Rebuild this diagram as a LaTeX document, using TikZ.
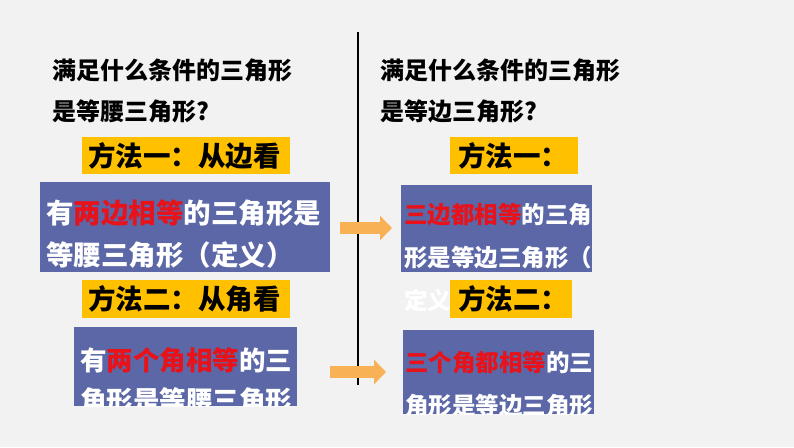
\documentclass[tikz,border=0pt]{standalone}
\usepackage{fontspec}
\newfontfamily\cjk{Noto Sans CJK SC}
\usetikzlibrary{positioning,arrows.meta}
\definecolor{bluebox}{HTML}{5B67A6}
\definecolor{goldbox}{HTML}{FFC000}
\definecolor{orangearr}{HTML}{F8B155}
\definecolor{redtxt}{HTML}{E8121A}
\begin{document}
\begin{tikzpicture}[x=1pt,y=-1pt]
    \tikzstyle{title} = [anchor=west, inner sep=0pt, font=\cjk\bfseries\fontsize{24}{26}\selectfont]
    \tikzstyle{tag} = [fill=goldbox, inner sep=0pt]
    \tikzstyle{card} = [fill=bluebox, inner sep=0pt]
    \tikzstyle{line} = [anchor=west, inner sep=0pt, text=white, font=\cjk\bfseries\fontsize{23.5}{26}\selectfont]
    \tikzstyle{wide} = [font=\cjk\bfseries\fontsize{27.5}{30}\selectfont]
    \tikzstyle{arr} = [-{Triangle[length=12pt,width=24pt]}, line width=12pt, draw=orangearr]
    \newcommand{\hl}[1]{\textcolor{redtxt}{#1}}

    \fill[black!5] (0,0) rectangle (794,447);
    \draw[line width=1.5pt] (358,32) -- (358,385);

    \node[title] (t1) at (52,70) {满足什么条件的三角形};
    \node[title] (t2) at (52,111) {是等腰三角形?};
    \node[title] (t3) at (380,70) {满足什么条件的三角形};
    \node[title] (t4) at (380,111) {是等边三角形?};

    % tags
    \fill[tag] (82,137) rectangle (290,174);
    \node[title, wide] (m1) at (88,156) {方法一：从边看};
    \fill[tag] (450,137) rectangle (578,174);
    \node[title, wide] (m2) at (458,156) {方法一：};
    \fill[tag] (82,280) rectangle (290,318);
    \node[title, wide] (m3) at (88,299) {方法二：从角看};
    \fill[tag] (450,280) rectangle (572,318);
    \node[title, wide] (m4) at (458,299) {方法二：};

    % cards
    \fill[card] (40,182) rectangle (330,272);
    \node[line, wide] (a1) at (46,213) {有\hl{两边相等}的三角形是};
    \node[line, wide] (a2) at (46,255) {等腰三角形（定义）};

    \fill[card] (401,185) rectangle (592,272);
    \node[line] (b1) at (404,215) {\hl{三边都相等}的三角};
    \node[line] (b2) at (404,258) {形是等边三角形（};
    \node[line] (b3) at (404,300) {定义};

    \begin{scope}
      \clip (74,327) rectangle (297,406);
      \fill[card] (74,327) rectangle (297,406);
      \node[line, font=\cjk\bfseries\fontsize{26.5}{30}\selectfont] (c1) at (80,360) {有\hl{两个角相等}的三};
      \node[line, font=\cjk\bfseries\fontsize{26.5}{30}\selectfont] (c2) at (80,400) {角形是等腰三角形};
    \end{scope}
    \begin{scope}
      \clip (403,330) rectangle (594,414);
      \fill[card] (403,330) rectangle (594,414);
      \node[line] (d1) at (405,363) {\hl{三个角都相等}的三};
      \node[line] (d2) at (405,406) {角形是等边三角形};
    \end{scope}

    \coordinate (p1) at (340,228);
    \coordinate (q1) at (392,228);
    \coordinate (p2) at (330,372);
    \coordinate (q2) at (386,372);
    \draw[arr] (p1) -- (q1);
    \draw[arr] (p2) -- (q2);
\end{tikzpicture}
\end{document}
